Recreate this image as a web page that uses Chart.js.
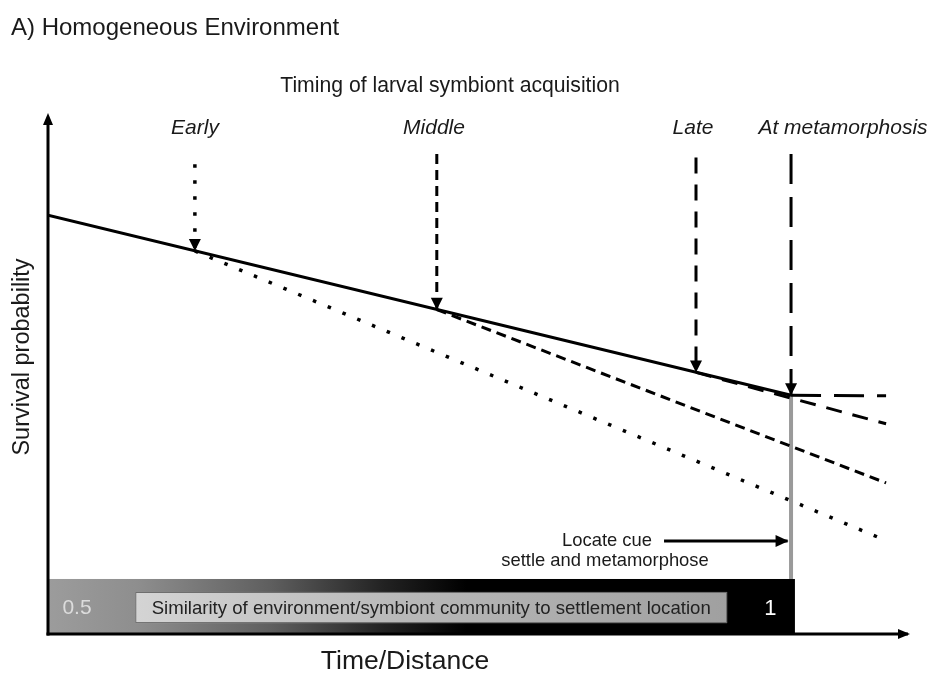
<!DOCTYPE html>
<html><head><meta charset="utf-8">
<script src="https://cdn.jsdelivr.net/npm/chart.js@4.4.0/dist/chart.umd.min.js"></script>
<style>html,body{margin:0;padding:0;background:#fff;}#wrap{width:932px;height:673px;position:relative;}</style>
</head><body><div id="wrap"><canvas id="c"></canvas></div>
<script>
// ---- data ----
const panelTitle = 'A) Homogeneous Environment';
const timingTitle = 'Timing of larval symbiont acquisition';
const xAxisTitle = 'Time/Distance';
const yAxisTitle = 'Survival probability';
const stageLabels = ['Early', 'Middle', 'Late', 'At metamorphosis'];
const stageTimes = [17, 45, 75, 86];
const stageSurvival = [0.738, 0.625, 0.504, 0.46];
const baseTimes = [0, 86];
const baseSurvival = [0.807, 0.46];
const endTime = 97;
const endSurvival = [0.18, 0.291, 0.405, 0.459];
const arrowTop = [0.905, 0.925, 0.918, 0.925];
const similarityLabels = ['0.5', '1'];
const similarityText = 'Similarity of environment/symbiont community to settlement location';
const cueLabels = ['Locate cue', 'settle and metamorphose'];
const cueArrowTimes = [71.3, 85.6];
const cueArrowSurvival = 0.179;

// ---- layout / style constants ----
const FONT = "'Liberation Sans', Arial, Helvetica, sans-serif";
const stageDash = [[3.5, 12.5], [10, 6], [16, 11], [30, 13]];
const barEnd = 86.45, barTop = 0.106;
const boxX = [10.1, 78.6], boxY = [0.021, 0.081];

const datasets = [];
datasets.push({
  data: baseTimes.map((t, i) => ({x: t, y: baseSurvival[i]})),
  borderColor: '#000', borderWidth: 3, pointRadius: 0, showLine: true, order: 1
});
stageTimes.forEach((t, i) => {
  datasets.push({
    data: [{x: t, y: stageSurvival[i]}, {x: endTime, y: endSurvival[i]}],
    borderColor: '#000', borderWidth: i === 0 ? 3.5 : 3, borderDash: stageDash[i], borderCapStyle: 'butt',
    pointRadius: 0, showLine: true, order: 2
  });
  datasets.push({
    data: [{x: t, y: arrowTop[i]}, {x: t, y: stageSurvival[i]}],
    borderColor: '#000', borderWidth: i === 0 ? 3.5 : 3, borderDash: stageDash[i], borderCapStyle: 'butt',
    pointRadius: 0, showLine: true, order: 2
  });
});
// settlement line (grey)
datasets.push({
  data: [{x: stageTimes[3], y: stageSurvival[3]}, {x: stageTimes[3], y: barTop}],
  borderColor: '#9a9a9a', borderWidth: 4, pointRadius: 0, showLine: true, order: 10
});
// cue arrow shaft
datasets.push({
  data: cueArrowTimes.map(t => ({x: t, y: cueArrowSurvival})),
  borderColor: '#000', borderWidth: 3, pointRadius: 0, showLine: true, order: 1
});

function head(ctx, x, y, dir, w, h) {
  ctx.beginPath();
  if (dir === 'down') { ctx.moveTo(x, y); ctx.lineTo(x - w / 2, y - h); ctx.lineTo(x + w / 2, y - h); }
  else if (dir === 'up') { ctx.moveTo(x, y); ctx.lineTo(x - w / 2, y + h); ctx.lineTo(x + w / 2, y + h); }
  else { ctx.moveTo(x, y); ctx.lineTo(x - h, y - w / 2); ctx.lineTo(x - h, y + w / 2); }
  ctx.closePath(); ctx.fill();
}

const deco = {
  id: 'deco',
  beforeDatasetsDraw(chart) {
    const {ctx, scales: {x, y}} = chart;
    const L = x.getPixelForValue(0), R = x.getPixelForValue(barEnd);
    const T = y.getPixelForValue(barTop), B = y.getPixelForValue(0);
    ctx.save();
    const g = ctx.createLinearGradient(L, 0, R, 0);
    g.addColorStop(0, '#9c9c9c'); g.addColorStop(0.12, '#8e8e8e'); g.addColorStop(0.3, '#5e5e5e');
    g.addColorStop(0.45, '#222'); g.addColorStop(0.56, '#000'); g.addColorStop(1, '#000');
    ctx.fillStyle = g; ctx.fillRect(L, T, R - L, B - T);
    const bx0 = x.getPixelForValue(boxX[0]), bx1 = x.getPixelForValue(boxX[1]);
    const by0 = y.getPixelForValue(boxY[1]), by1 = y.getPixelForValue(boxY[0]);
    const g2 = ctx.createLinearGradient(bx0, 0, bx1, 0);
    g2.addColorStop(0, '#d4d4d4'); g2.addColorStop(0.5, '#b6b6b6'); g2.addColorStop(1, '#a0a0a0');
    ctx.fillStyle = g2; ctx.fillRect(bx0, by0, bx1 - bx0, by1 - by0);
    ctx.strokeStyle = '#6a6a6a'; ctx.lineWidth = 1; ctx.strokeRect(bx0 + 0.5, by0 + 0.5, bx1 - bx0 - 1, by1 - by0 - 1);
    ctx.fillStyle = '#222'; ctx.font = '18.6px ' + FONT; ctx.textAlign = 'center'; ctx.textBaseline = 'middle';
    ctx.fillText(similarityText, (bx0 + bx1) / 2, (by0 + by1) / 2 + 1);
    ctx.font = '21px ' + FONT;
    ctx.fillStyle = '#dcdcdc'; ctx.fillText(similarityLabels[0], L + 29, (by0 + by1) / 2 + 1);
    ctx.fillStyle = '#fff'; ctx.font = '22px ' + FONT;
    ctx.fillText(similarityLabels[1], x.getPixelForValue(83.6), (by0 + by1) / 2 + 1);
    ctx.restore();
  },
  afterDatasetsDraw(chart) {
    const {ctx, scales: {x, y}} = chart;
    const L = x.getPixelForValue(0), B = y.getPixelForValue(0);
    ctx.save();
    ctx.fillStyle = '#000';
    // arrow heads
    stageTimes.forEach((t, i) => head(ctx, x.getPixelForValue(t), y.getPixelForValue(stageSurvival[i]), 'down', 12, 12));
    head(ctx, x.getPixelForValue(cueArrowTimes[1]) + 1, y.getPixelForValue(cueArrowSurvival), 'right', 12, 13);
    // axes
    ctx.strokeStyle = '#000'; ctx.lineWidth = 3; ctx.setLineDash([]);
    ctx.beginPath(); ctx.moveTo(L, B + 1.5); ctx.lineTo(L, chart.chartArea.top + 4); ctx.stroke();
    ctx.beginPath(); ctx.moveTo(L - 1.5, B); ctx.lineTo(chart.chartArea.right - 4, B); ctx.stroke();
    head(ctx, L, chart.chartArea.top - 2, 'up', 10, 12);
    head(ctx, chart.chartArea.right - 2, B, 'right', 10, 12);
    // texts
    ctx.fillStyle = '#1a1a1a'; ctx.textBaseline = 'middle';
    ctx.font = '24px ' + FONT; ctx.textAlign = 'left';
    ctx.fillText(panelTitle, 11, 28);
    ctx.font = '21.2px ' + FONT; ctx.textAlign = 'center';
    ctx.fillText(timingTitle, 450, 86);
    ctx.font = 'italic 21px ' + FONT;
    const labelY = y.getPixelForValue(0.975);
    const labelX = [195, 434, 693, 843];
    stageLabels.forEach((s, i) => ctx.fillText(s, labelX[i], labelY));
    ctx.font = '26.5px ' + FONT;
    ctx.fillText(xAxisTitle, 405, 662);
    ctx.font = '23.5px ' + FONT;
    ctx.save(); ctx.translate(23, 357); ctx.rotate(-Math.PI / 2); ctx.fillText(yAxisTitle, 0, 0); ctx.restore();
    ctx.font = '18.4px ' + FONT;
    ctx.textAlign = 'right'; ctx.fillText(cueLabels[0], 652, y.getPixelForValue(cueArrowSurvival));
    ctx.textAlign = 'center'; ctx.fillText(cueLabels[1], 605, 561);
    ctx.restore();
  }
};

new Chart(document.getElementById('c'), {
  type: 'scatter',
  data: {datasets},
  options: {
    responsive: true, maintainAspectRatio: false, animation: false,
    layout: {padding: {left: 48, right: 20, top: 115, bottom: 39}},
    plugins: {legend: {display: false}, tooltip: {enabled: false}, title: {display: false}},
    scales: {
      x: {type: 'linear', min: 0, max: 100, display: false},
      y: {type: 'linear', min: 0, max: 1, display: false}
    },
    events: []
  },
  plugins: [deco]
});
</script></body></html>
